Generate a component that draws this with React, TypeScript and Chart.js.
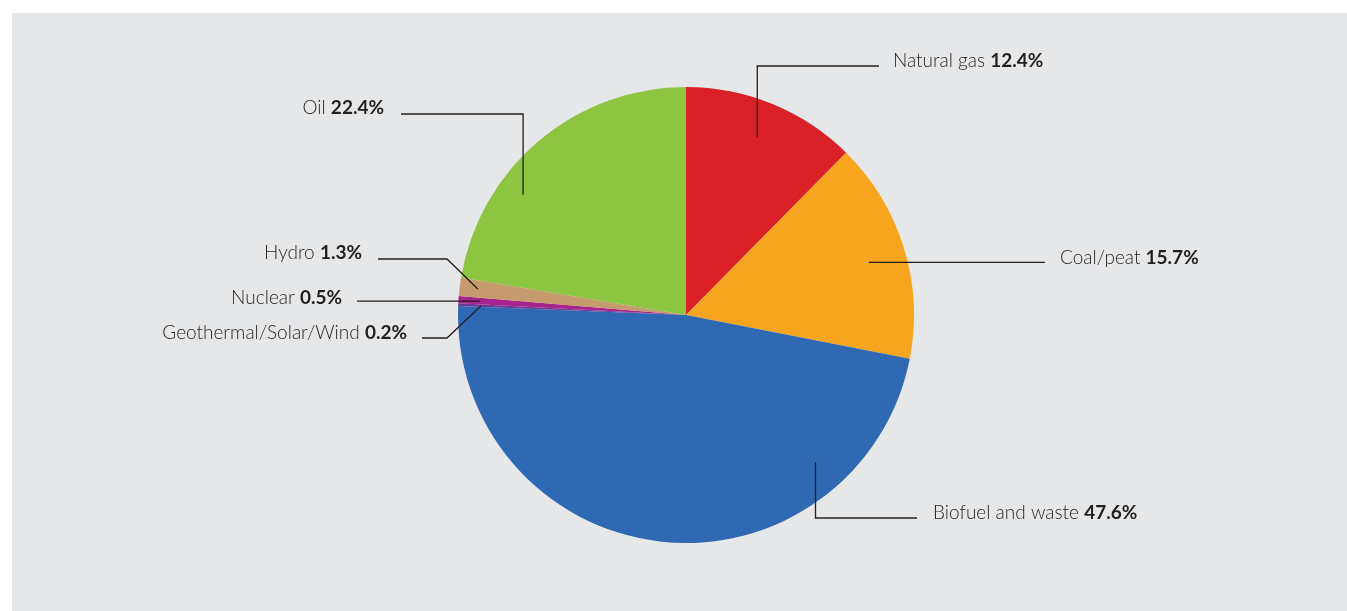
import React, { useEffect, useRef } from "react";
import { Chart, registerables } from "chart.js";

Chart.register(...registerables);

// ---- data ----
const categories = [
  "Natural gas",
  "Coal/peat",
  "Biofuel and waste",
  "Geothermal/Solar/Wind",
  "Nuclear",
  "Hydro",
  "Oil",
];
const shares = [12.4, 15.7, 47.6, 0.2, 0.5, 1.3, 22.4];
const valueLabels = ["12.4%", "15.7%", "47.6%", "0.2%", "0.5%", "1.3%", "22.4%"];
const sliceColors = ["#da2128", "#f7a51e", "#2f69b3", "#6c3a96", "#a8238e", "#c59b6d", "#8dc540"];

// ---- leader-line layout (relative to pie centre, in pixels; anchor as fraction of slice & radius) ----
type Leader = {
  frac: number;
  rf: number;
  kind: "v" | "h" | "d";
  elbow?: [number, number];
  endX: number;
  text: [number, number];
  align: "left" | "right";
};
const leaders: Leader[] = [
  { frac: 0.49, rf: 0.84, kind: "v", elbow: [0, -249], endX: 193, text: [207, -248], align: "left" },
  { frac: 0.52, rf: 0.834, kind: "h", endX: 359, text: [374, -51], align: "left" },
  { frac: 0.22, rf: 0.861, kind: "v", elbow: [0, 203], endX: 231, text: [247, 204], align: "left" },
  { frac: 0.5, rf: 0.9, kind: "d", elbow: [-239, 23], endX: -264, text: [-279, 24], align: "right" },
  { frac: 0.5, rf: 0.905, kind: "h", endX: -329, text: [-344, -11], align: "right" },
  { frac: 0.5, rf: 0.92, kind: "d", elbow: [-239, -56], endX: -308, text: [-324, -56], align: "right" },
  { frac: 0.335, rf: 0.888, kind: "v", elbow: [0, -201], endX: -285, text: [-302, -201], align: "right" },
];

const FONT_FAMILY = "Lato, 'Noto Sans', sans-serif";
const FONT_SIZE = 19;

const leaderPlugin = {
  id: "leaders",
  afterDraw(chart: any) {
    const ctx = chart.ctx as CanvasRenderingContext2D;
    const meta = chart.getDatasetMeta(0);
    ctx.save();
    meta.data.forEach((arc: any, i: number) => {
      const L = leaders[i];
      if (!L) return;
      const cx = arc.x, cy = arc.y, R = arc.outerRadius;
      const ang = arc.startAngle + L.frac * (arc.endAngle - arc.startAngle);
      const ax = cx + Math.cos(ang) * R * L.rf;
      const ay = cy + Math.sin(ang) * R * L.rf;
      ctx.strokeStyle = "#231f20";
      ctx.lineWidth = 1.3;
      ctx.beginPath();
      ctx.moveTo(ax, ay);
      let ly = ay;
      if (L.kind === "v" && L.elbow) {
        ly = cy + L.elbow[1];
        ctx.lineTo(ax, ly);
      } else if (L.kind === "d" && L.elbow) {
        ly = cy + L.elbow[1];
        ctx.lineTo(cx + L.elbow[0], ly);
      }
      ctx.lineTo(cx + L.endX, ly);
      ctx.stroke();

      const name = categories[i] + " ";
      const val = valueLabels[i];
      const normFont = `300 ${FONT_SIZE}px ${FONT_FAMILY}`;
      const boldFont = `700 ${FONT_SIZE}px ${FONT_FAMILY}`;
      ctx.font = normFont;
      const wn = ctx.measureText(name).width;
      ctx.font = boldFont;
      const wb = ctx.measureText(val).width;
      const tx = cx + L.text[0];
      const ty = cy + L.text[1];
      const x0 = L.align === "left" ? tx : tx - (wn + wb);
      ctx.fillStyle = "#231f20";
      ctx.textBaseline = "alphabetic";
      ctx.textAlign = "left";
      ctx.font = normFont;
      ctx.fillText(name, x0, ty);
      ctx.font = boldFont;
      ctx.fillText(val, x0 + wn, ty);
    });
    ctx.restore();
  },
};

export default function App() {
  const ref = useRef<HTMLCanvasElement | null>(null);
  useEffect(() => {
    if (!ref.current) return;
    const chart = new Chart(ref.current, {
      type: "pie",
      data: {
        labels: categories,
        datasets: [
          {
            data: shares,
            backgroundColor: sliceColors,
            borderWidth: 0,
          },
        ],
      },
      options: {
        responsive: false,
        animation: false,
        layout: { padding: { top: 74, bottom: 68, left: 300, right: 287 } },
        plugins: { legend: { display: false }, tooltip: { enabled: false } },
      },
      plugins: [leaderPlugin],
    });
    return () => chart.destroy();
  }, []);
  return (
    <div
      style={{
        position: "absolute",
        left: 12,
        top: 13,
        width: 1335,
        height: 598,
        background: "#e6e7e8",
      }}
    >
      <canvas ref={ref} width={1335} height={598} style={{ display: "block" }} />
    </div>
  );
}
